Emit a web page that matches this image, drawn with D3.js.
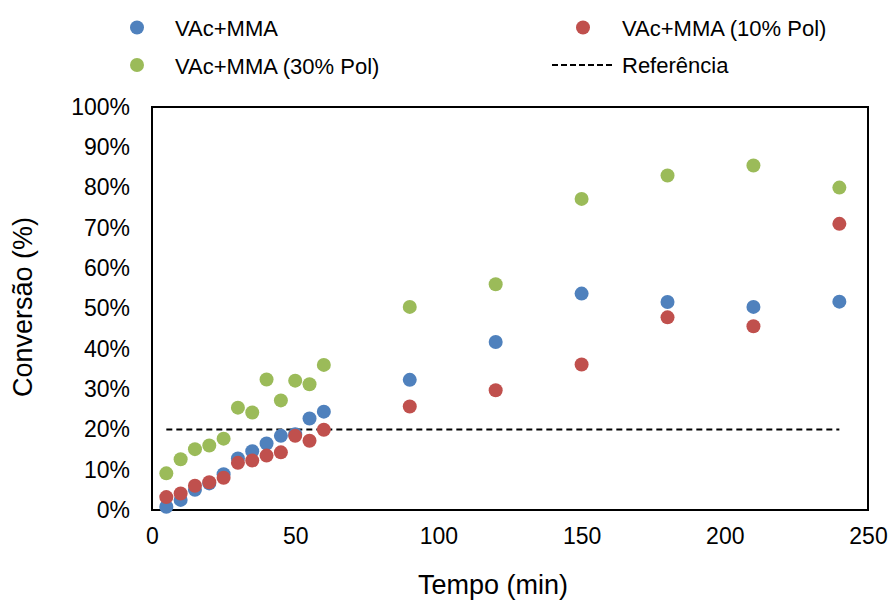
<!DOCTYPE html>
<html><head><meta charset="utf-8">
<script src="https://cdn.jsdelivr.net/npm/d3@7"></script>
<style>body{margin:0;background:#fff;} text{font-family:"Liberation Sans",Arial,sans-serif;fill:#000;}</style>
</head><body>
<svg id="c" width="896" height="602"></svg>
<script>
const tempo = [5,10,15,20,25,30,35,40,45,50,55,60,90,120,150,180,210,240];
const vacMma = [0.8,2.5,5.0,6.6,8.9,12.8,14.6,16.5,18.4,18.8,22.7,24.4,32.3,41.7,53.7,51.6,50.4,51.7];
const vacMma10 = [3.2,4.1,6.0,6.9,8.0,11.7,12.3,13.5,14.3,18.4,17.2,19.9,25.7,29.7,36.1,47.8,45.6,71.0];
const vacMma30 = [9.1,12.6,15.1,16.0,17.7,25.4,24.2,32.4,27.2,32.1,31.2,36.0,50.4,56.0,77.2,83.0,85.5,80.0];
const referencia = [[5,20],[240,20]];
const xTicks = [0,50,100,150,200,250];
const yTicks = [0,10,20,30,40,50,60,70,80,90,100];
const seriesNames = ["VAc+MMA","VAc+MMA (10% Pol)","VAc+MMA (30% Pol)","Referência"];
const colors = ["#4F81BD","#C0504D","#9BBB59"];

const svg = d3.select("#c");
const L=152,R=868,T=107,B=510;
const x = d3.scaleLinear().domain([0,250]).range([L,R]);
const y = d3.scaleLinear().domain([0,100]).range([B,T]);

svg.append("rect").attr("x",L).attr("y",T).attr("width",R-L).attr("height",B-T)
  .attr("fill","none").attr("stroke","#000").attr("stroke-width",2);

const xa = svg.append("g").attr("transform",`translate(0,${B})`)
  .call(d3.axisBottom(x).tickValues(xTicks).tickSize(0).tickPadding(18).tickFormat(d3.format("d")));
xa.select(".domain").remove();
xa.selectAll("text").attr("font-size",23).attr("font-family","Liberation Sans, Arial, sans-serif");
const ya = svg.append("g").attr("transform",`translate(${L},0)`)
  .call(d3.axisLeft(y).tickValues(yTicks).tickSize(0).tickPadding(22).tickFormat(d=>d+"%"));
ya.select(".domain").remove();
ya.selectAll("text").attr("font-size",23).attr("font-family","Liberation Sans, Arial, sans-serif");

svg.append("path").datum(referencia)
  .attr("d",d3.line().x(d=>x(d[0])).y(d=>y(d[1])))
  .attr("stroke","#000").attr("stroke-width",2).attr("stroke-dasharray","6,4").attr("fill","none");

const data=[vacMma,vacMma10,vacMma30];
[2,0,1].forEach(i=>{
  svg.append("g").selectAll("circle").data(tempo.map((t,k)=>[t,data[i][k]])).join("circle")
    .attr("cx",d=>x(d[0])).attr("cy",d=>y(d[1])).attr("r",7).attr("fill",colors[i]);
});

svg.append("text").attr("x",493).attr("y",594).attr("text-anchor","middle").attr("font-size",27).text("Tempo (min)");
svg.append("text").attr("transform","translate(32,307) rotate(-90)").attr("text-anchor","middle").attr("font-size",27).text("Conversão (%)");

const leg=[{x:137,y:27.5,i:0,tx:175},{x:583,y:27.5,i:1,tx:622},{x:137,y:65,i:2,tx:175}];
leg.forEach(l=>{
  svg.append("circle").attr("cx",l.x).attr("cy",l.y).attr("r",7).attr("fill",colors[l.i]);
  svg.append("text").attr("x",l.tx).attr("y",l.y+8.5).attr("font-size",22).text(seriesNames[l.i]);
});
svg.append("line").attr("x1",552).attr("x2",612).attr("y1",65).attr("y2",65)
  .attr("stroke","#000").attr("stroke-width",2).attr("stroke-dasharray","6,3");
svg.append("text").attr("x",622).attr("y",72.5).attr("font-size",22).text(seriesNames[3]);
</script>
</body></html>
